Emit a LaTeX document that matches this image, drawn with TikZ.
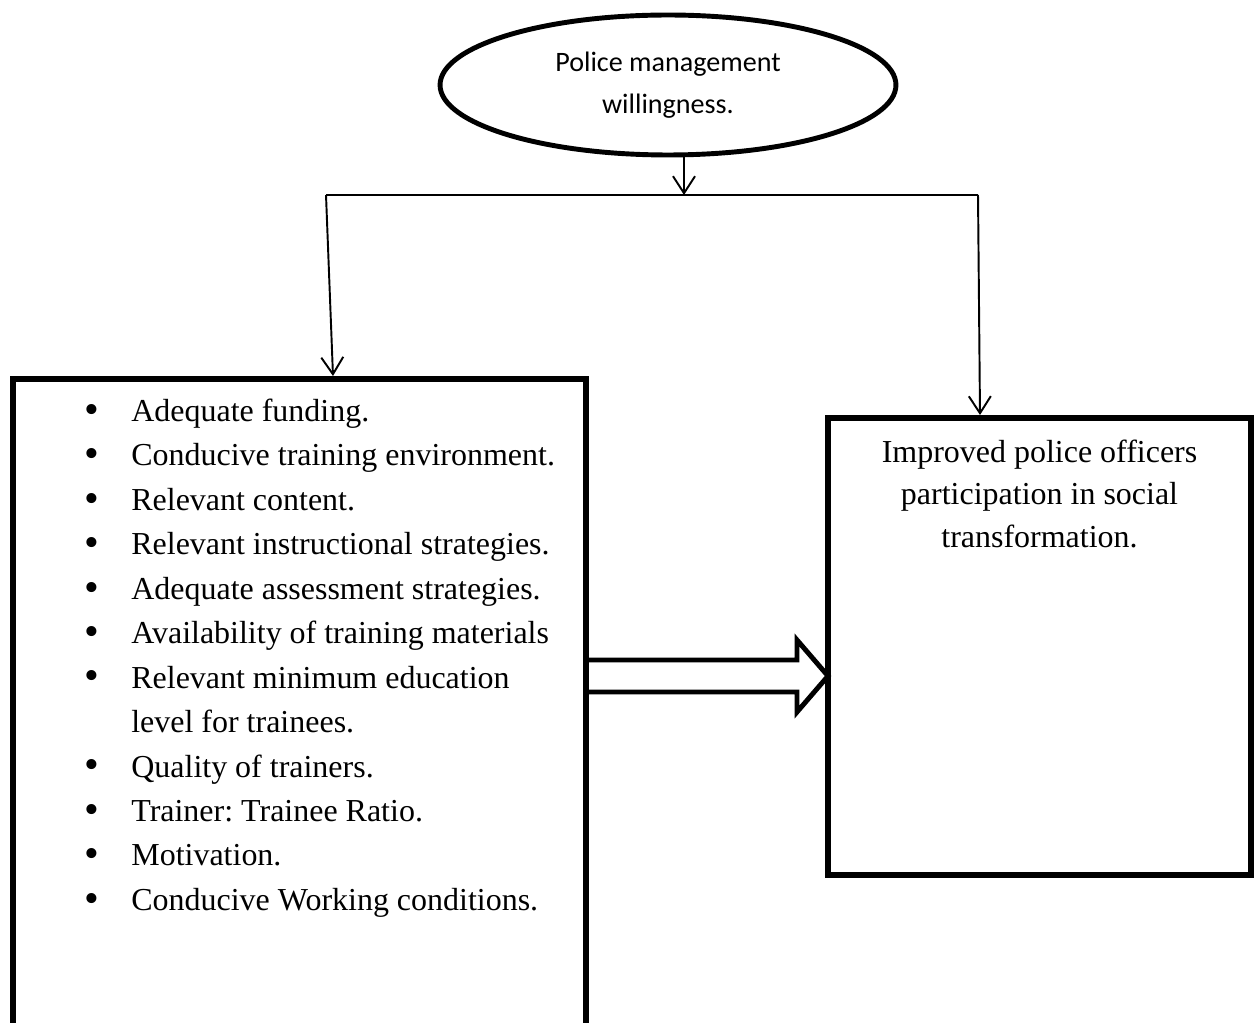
\documentclass[tikz,border=0pt]{standalone}
\usepackage{fontspec}
\setmainfont{Liberation Serif}
\newfontfamily\calibri{Carlito}
\usetikzlibrary{
    arrows.meta,
    positioning,
    shapes.geometric,
    calc
}

\newcommand{\blob}{\raisebox{-0.12ex}{\fontsize{24}{0}\selectfont\textbullet}}
\frenchspacing

\begin{document}
\begin{tikzpicture}[
        x=0.02cm,
        y=-0.02cm,
        box/.style={
            rectangle,
            draw,
            line width=3pt,
            inner sep=0pt
        },
        oval/.style={
            ellipse,
            draw,
            line width=2.8pt,
            inner sep=0pt,
            minimum width=9.12cm,
            minimum height=2.8cm,
            align=center,
            font=\calibri\fontsize{16}{23.8}\selectfont
        },
        words/.style={
            inner sep=0pt,
            font=\fontsize{18.2}{25.3}\selectfont
        },
        line/.style={
            -{Straight Barb[length=3.4mm, width=4.4mm]},
            line width=1.1pt
        },
        fat/.style={
            draw,
            line width=2.8pt,
            line join=miter
        }
    ]

    \useasboundingbox (0,0) rectangle (1256,1023);
    \clip (0,0) rectangle (1256,1023);

    \node[oval] (will) at (668,85)
        {Police management\\willingness.};

    \node[box, minimum width=11.46cm, minimum height=13.62cm] (factors)
        at (299.5,719.5) {};

    \node[box, minimum width=8.46cm, minimum height=9.14cm] (outcome)
        at (1039.5,646.5) {};

    \node[words, anchor=north west] (items) at (84,390)
        {\begin{tabular}{@{}p{0.94cm}@{}l@{}}
            \blob & Adequate funding.\\
            \blob & Conducive training environment.\\
            \blob & Relevant content.\\
            \blob & Relevant instructional strategies.\\
            \blob & Adequate assessment strategies.\\
            \blob & Availability of training materials\\
            \blob & Relevant minimum education\\
                  & level for trainees.\\
            \blob & Quality of trainers.\\
            \blob & Trainer: Trainee Ratio.\\
            \blob & Motivation.\\
            \blob & Conducive Working conditions.
        \end{tabular}};

    \node[words, align=center, font=\fontsize{18.2}{24.2}\selectfont,
          below=0.48cm of outcome.north] (result)
        {Improved police officers\\participation in social\\transformation.};

    % branch lines
    \coordinate (split) at (684,195);
    \coordinate (lcorner) at (326,195);
    \coordinate (rcorner) at (978,195);
    \coordinate (ltip) at (333,376);
    \coordinate (rtip) at (980,415);

    \draw[line] (split |- will.south) -- (split);
    \draw[line width=1.1pt] (lcorner) -- (rcorner);
    \draw[line] (lcorner) -- (ltip);
    \draw[line] (rcorner) -- (rtip);

    % hollow block arrow
    \coordinate (shaft) at (586,676);
    \draw[fat] (shaft) ++(0,-16) -- ++(211,0) -- ++(0,-20) -- ++(31,36)
        -- ++(-31,36) -- ++(0,-20) -- ++(-211,0) -- cycle;

\end{tikzpicture}
\end{document}
